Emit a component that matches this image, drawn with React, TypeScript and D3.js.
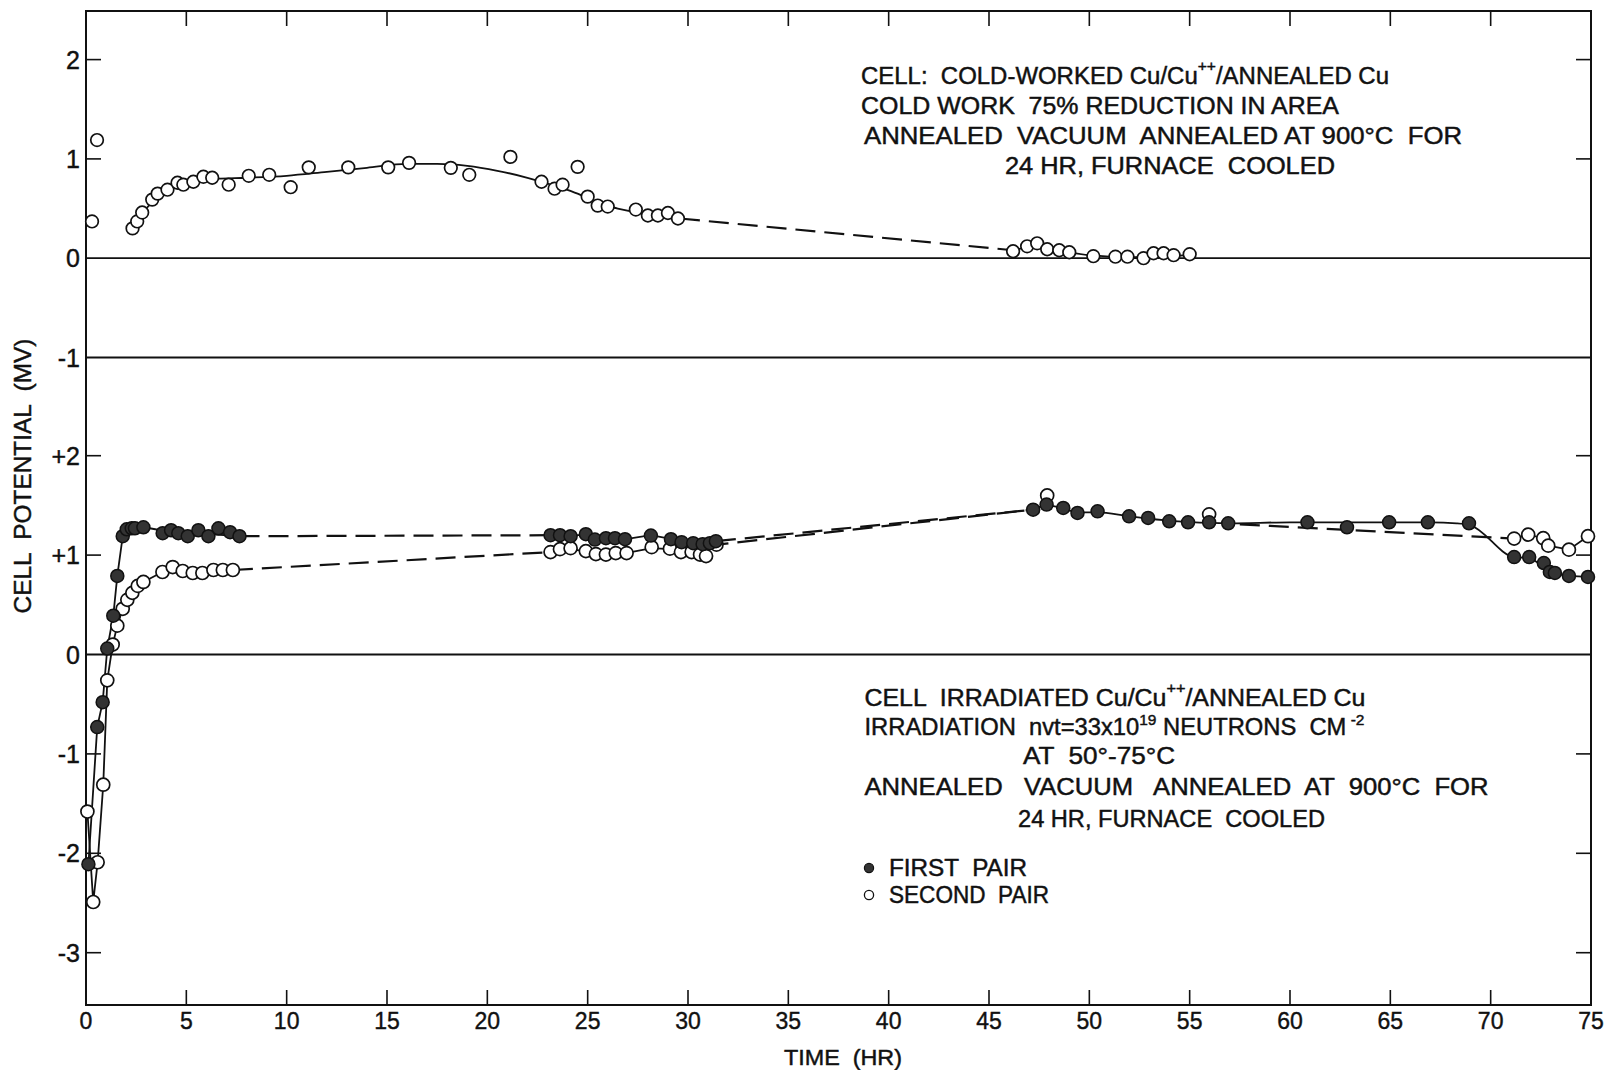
import React from 'react';
import * as d3 from 'd3';

type P = [number, number];

// ---------- axis tick labels ----------
const xTickValues = [0, 5, 10, 15, 20, 25, 30, 35, 40, 45, 50, 55, 60, 65, 70, 75];
const topTickValues = [2, 1, 0, -1];
const topTickLabels = ['2', '1', '0', '-1'];
const lowTickValues = [2, 1, 0, -1, -2, -3];
const lowTickLabels = ['+2', '+1', '0', '-1', '-2', '-3'];

// ---------- upper panel: cold-worked Cu (open circles) ----------
const topPoints: P[] = [
  [0.3, 0.37], [0.55, 1.19], [2.32, 0.3], [2.55, 0.37], [2.8, 0.46], [3.3, 0.59], [3.57, 0.65],
  [4.06, 0.69], [4.56, 0.76], [4.85, 0.74], [5.35, 0.77], [5.85, 0.82], [6.29, 0.81], [7.11, 0.74],
  [8.11, 0.83], [9.13, 0.84], [10.2, 0.715], [11.1, 0.915], [13.07, 0.915], [15.06, 0.915],
  [16.1, 0.96], [18.18, 0.91], [19.1, 0.84], [21.15, 1.02], [22.7, 0.77], [23.35, 0.7], [23.75, 0.74],
  [24.5, 0.92], [25.0, 0.62], [25.5, 0.53], [26.0, 0.52], [27.4, 0.49], [28.0, 0.43], [28.5, 0.43],
  [29.0, 0.455], [29.5, 0.4],
  [46.2, 0.07], [46.9, 0.12], [47.4, 0.15], [47.9, 0.09], [48.5, 0.08], [49.0, 0.06], [50.2, 0.02],
  [51.3, 0.015], [51.9, 0.015], [52.7, 0.0], [53.2, 0.05], [53.7, 0.05], [54.2, 0.03], [55.0, 0.04],
];
const topFitSolid1: P[] = [
  [2.3, 0.3], [3, 0.5], [3.6, 0.62], [4.5, 0.72], [5.5, 0.78], [6.5, 0.8], [8, 0.81], [10, 0.83],
  [12, 0.87], [14, 0.91], [16, 0.95], [17.5, 0.95], [19, 0.93], [20.5, 0.88], [22, 0.81],
  [23.5, 0.72], [24.5, 0.65], [25.5, 0.55], [26.5, 0.5], [27.5, 0.46], [28.5, 0.43], [29.6, 0.4],
];
const topFitDashed: P[] = [[29.6, 0.4], [46.2, 0.08]];
const topFitSolid2: P[] = [[46.2, 0.08], [47.4, 0.12], [48.5, 0.08], [50, 0.03], [52, 0.01], [55, 0.03]];

// ---------- lower panel: irradiated Cu, first pair (filled) ----------
const firstPairPoints: P[] = [
  [0.12, -2.11], [0.56, -0.73], [0.83, -0.48], [1.06, 0.06], [1.36, 0.39], [1.56, 0.79], [1.83, 1.19],
  [2.03, 1.26], [2.28, 1.27], [2.44, 1.27], [2.86, 1.28], [3.82, 1.22], [4.24, 1.25], [4.6, 1.22],
  [5.07, 1.19], [5.6, 1.25], [6.1, 1.19], [6.6, 1.27], [7.18, 1.23], [7.65, 1.19],
  [23.15, 1.2], [23.62, 1.2], [24.15, 1.19], [24.91, 1.21], [25.36, 1.156], [25.91, 1.17], [26.36, 1.17],
  [26.86, 1.16], [28.15, 1.196], [29.15, 1.16], [29.68, 1.13], [30.26, 1.12], [30.73, 1.11],
  [31.09, 1.12], [31.39, 1.14],
  [47.2, 1.457], [47.87, 1.508], [48.7, 1.474], [49.41, 1.424], [50.41, 1.44], [51.98, 1.39],
  [52.93, 1.374], [53.98, 1.34], [54.92, 1.33], [55.97, 1.33], [56.92, 1.32], [60.87, 1.33],
  [62.84, 1.28], [64.94, 1.33], [66.87, 1.33], [68.92, 1.32], [71.17, 0.98], [71.92, 0.98],
  [72.65, 0.92], [72.95, 0.83], [73.2, 0.82], [73.9, 0.79], [74.85, 0.78],
];
const firstSolid1: P[] = [
  [0.12, -2.11], [0.56, -0.73], [0.83, -0.48], [1.06, 0.06], [1.36, 0.39], [1.56, 0.79], [1.83, 1.19],
  [2.1, 1.27], [2.9, 1.28], [4, 1.24], [5.5, 1.22], [7.65, 1.19],
];
const firstDashed1: P[] = [[7.65, 1.19], [23.15, 1.2]];
const firstSolid2: P[] = [
  [23.15, 1.2], [24.9, 1.2], [26.9, 1.16], [28.15, 1.2], [29.2, 1.16], [31.39, 1.13],
];
const firstDashed2: P[] = [[31.39, 1.14], [47.2, 1.457]];
const firstSolid3: P[] = [
  [47.2, 1.457], [47.87, 1.5], [48.7, 1.47], [49.41, 1.43], [50.41, 1.43], [52, 1.39], [54, 1.345],
  [57, 1.32], [60, 1.33], [64, 1.33], [67, 1.33], [68.3, 1.32], [69, 1.3], [71.17, 0.98],
  [71.92, 0.97], [72.9, 0.84], [73.9, 0.79], [75, 0.78],
];

// ---------- lower panel: second pair (open) ----------
const secondPairPoints: P[] = [
  [0.07, -1.58], [0.36, -2.49], [0.58, -2.09], [0.86, -1.31], [1.06, -0.26], [1.33, 0.1], [1.56, 0.29],
  [1.83, 0.46], [2.06, 0.55], [2.31, 0.62], [2.58, 0.69], [2.86, 0.73], [3.81, 0.83], [4.32, 0.88],
  [4.82, 0.84], [5.32, 0.82], [5.8, 0.82], [6.35, 0.85], [6.82, 0.85], [7.32, 0.85],
  [23.15, 1.03], [23.62, 1.06], [24.15, 1.07], [24.91, 1.04], [25.41, 1.01], [25.91, 1.005],
  [26.4, 1.02], [26.94, 1.02], [28.19, 1.08], [29.1, 1.065], [29.65, 1.03], [30.18, 1.03],
  [30.6, 1.005], [30.9, 0.99], [31.42, 1.105],
  [47.9, 1.6], [55.97, 1.41],
  [71.17, 1.166], [71.87, 1.206], [72.62, 1.17], [72.87, 1.095], [73.9, 1.055], [74.85, 1.19],
];
const secondSolid1: P[] = [
  [0.07, -1.58], [0.36, -2.49], [0.58, -2.09], [0.86, -1.31], [1.06, -0.26], [1.33, 0.1], [1.56, 0.29],
  [1.83, 0.46], [2.3, 0.6], [2.86, 0.73], [3.81, 0.83], [4.32, 0.86], [5.3, 0.83], [7.32, 0.85],
];
const secondDashed1: P[] = [[7.32, 0.85], [23.15, 1.03]];
const secondSolid2: P[] = [
  [23.15, 1.03], [24.15, 1.06], [25.9, 1.01], [26.9, 1.02], [28.19, 1.07], [29.1, 1.06], [31.42, 1.1],
];
const secondDashed2: P[] = [[31.42, 1.105], [47.2, 1.457]];
const secondDashed3: P[] = [[57.5, 1.31], [71.17, 1.166]];
const secondSolid3: P[] = [
  [71.17, 1.166], [71.87, 1.206], [72.62, 1.17], [72.87, 1.095], [73.9, 1.055], [74.85, 1.19],
];

const FONT = "'Liberation Sans', Arial, sans-serif";
const INK = '#111';

export default function App() {
  const x = d3.scaleLinear().domain([0, 75]).range([86, 1591]);
  const yTop = d3.scaleLinear().domain([-1, 2]).range([357.5, 59.6]);
  const yLow = d3.scaleLinear().domain([-3, 2]).range([952.7, 455.7]);
  const frameTop = 11;
  const frameBottom = 1005;
  const left = x(0);
  const right = x(75);

  const topLine = d3.line<P>().x(d => x(d[0])).y(d => yTop(d[1])).curve(d3.curveMonotoneX);
  const lowLine = d3.line<P>().x(d => x(d[0])).y(d => yLow(d[1]));
  const lowSmooth = d3.line<P>().x(d => x(d[0])).y(d => yLow(d[1])).curve(d3.curveMonotoneX);

  const dash = '20,9';
  const lw = 1.8;

  const txt = (props: any, children: any) => (
    <text fontFamily={FONT} fill={INK} stroke={INK} strokeWidth={0.45} style={{ whiteSpace: 'pre' }} lengthAdjust="spacingAndGlyphs" {...props}>
      {children}
    </text>
  );

  return (
    <svg width={1608} height={1070} style={{ position: 'absolute', left: 0, top: 0, background: '#fff' }}>
      <rect x={0} y={0} width={1608} height={1070} fill="#fff" />
      {/* frame */}
      <rect x={left} y={frameTop} width={right - left} height={frameBottom - frameTop} fill="none" stroke={INK} strokeWidth={2} />
      {/* full-width reference lines */}
      <line x1={left} x2={right} y1={yTop(0)} y2={yTop(0)} stroke={INK} strokeWidth={1.8} />
      <line x1={left} x2={right} y1={yTop(-1)} y2={yTop(-1)} stroke={INK} strokeWidth={1.8} />
      <line x1={left} x2={right} y1={yLow(0)} y2={yLow(0)} stroke={INK} strokeWidth={1.8} />

      {/* x ticks, top and bottom */}
      {xTickValues.filter(v => v > 0 && v < 75).map(v => (
        <g key={'xt' + v}>
          <line x1={x(v)} x2={x(v)} y1={frameBottom} y2={frameBottom - 15} stroke={INK} strokeWidth={1.6} />
          <line x1={x(v)} x2={x(v)} y1={frameTop} y2={frameTop + 15} stroke={INK} strokeWidth={1.6} />
        </g>
      ))}
      {xTickValues.map(v => (
        <text key={'xl' + v} x={x(v)} y={1029} textAnchor="middle" fontFamily={FONT} fontSize={23} fill={INK} stroke={INK} strokeWidth={0.4}>
          {v}
        </text>
      ))}
      {txt({ x: 843, y: 1065, textAnchor: 'middle', fontSize: 22, textLength: 118 }, 'TIME  (HR)')}

      {/* y ticks and labels */}
      {topTickValues.map((v, i) => (
        <g key={'yt' + v}>
          {v === 2 || v === 1 ? (
            <>
              <line x1={left} x2={left + 15} y1={yTop(v)} y2={yTop(v)} stroke={INK} strokeWidth={1.6} />
              <line x1={right} x2={right - 15} y1={yTop(v)} y2={yTop(v)} stroke={INK} strokeWidth={1.6} />
            </>
          ) : null}
          <text x={80} y={yTop(v)} dy="0.36em" textAnchor="end" fontFamily={FONT} fontSize={25} fill={INK} stroke={INK} strokeWidth={0.4}>
            {topTickLabels[i]}
          </text>
        </g>
      ))}
      {lowTickValues.map((v, i) => (
        <g key={'yl' + v}>
          {v !== 0 ? (
            <>
              <line x1={left} x2={left + 15} y1={yLow(v)} y2={yLow(v)} stroke={INK} strokeWidth={1.6} />
              <line x1={right} x2={right - 15} y1={yLow(v)} y2={yLow(v)} stroke={INK} strokeWidth={1.6} />
            </>
          ) : null}
          <text x={80} y={yLow(v)} dy="0.36em" textAnchor="end" fontFamily={FONT} fontSize={25} fill={INK} stroke={INK} strokeWidth={0.4}>
            {lowTickLabels[i]}
          </text>
        </g>
      ))}
      {txt({ transform: 'translate(31,476) rotate(-90)', textAnchor: 'middle', fontSize: 24, textLength: 275 }, 'CELL  POTENTIAL  (MV)')}

      {/* upper panel lines */}
      <path d={topLine(topFitSolid1) || ''} fill="none" stroke={INK} strokeWidth={lw} />
      <path d={topLine(topFitDashed) || ''} fill="none" stroke={INK} strokeWidth={lw + 0.4} strokeDasharray={dash} />
      <path d={topLine(topFitSolid2) || ''} fill="none" stroke={INK} strokeWidth={lw} />
      {topPoints.map((d, i) => (
        <circle key={'tp' + i} cx={x(d[0])} cy={yTop(d[1])} r={6.3} fill="#fff" stroke={INK} strokeWidth={1.7} />
      ))}

      {/* lower panel lines */}
      <path d={lowLine(secondSolid1) || ''} fill="none" stroke={INK} strokeWidth={lw} />
      <path d={lowLine(secondDashed1) || ''} fill="none" stroke={INK} strokeWidth={lw + 0.4} strokeDasharray={dash} />
      <path d={lowLine(secondSolid2) || ''} fill="none" stroke={INK} strokeWidth={lw} />
      <path d={lowLine(secondDashed2) || ''} fill="none" stroke={INK} strokeWidth={lw + 0.4} strokeDasharray={dash} strokeDashoffset={8} />
      <path d={lowLine(secondDashed3) || ''} fill="none" stroke={INK} strokeWidth={lw + 0.4} strokeDasharray={dash} />
      <path d={lowLine(secondSolid3) || ''} fill="none" stroke={INK} strokeWidth={lw} />

      <path d={lowLine(firstSolid1) || ''} fill="none" stroke={INK} strokeWidth={lw} />
      <path d={lowLine(firstDashed1) || ''} fill="none" stroke={INK} strokeWidth={lw + 0.4} strokeDasharray={dash} />
      <path d={lowLine(firstSolid2) || ''} fill="none" stroke={INK} strokeWidth={lw} />
      <path d={lowLine(firstDashed2) || ''} fill="none" stroke={INK} strokeWidth={lw + 0.4} strokeDasharray={dash} />
      <path d={lowSmooth(firstSolid3) || ''} fill="none" stroke={INK} strokeWidth={lw} />

      {secondPairPoints.map((d, i) => (
        <circle key={'sp' + i} cx={x(d[0])} cy={yLow(d[1])} r={6.5} fill="#fff" stroke={INK} strokeWidth={1.7} />
      ))}
      {firstPairPoints.map((d, i) => (
        <circle key={'fp' + i} cx={x(d[0])} cy={yLow(d[1])} r={6.5} fill="#333" stroke={INK} strokeWidth={1.5} />
      ))}

      {/* upper annotation */}
      {txt({ x: 861, y: 83.5, fontSize: 23, textLength: 528 }, [
        <tspan key="a">{'CELL:  COLD-WORKED Cu/Cu'}</tspan>,
        <tspan key="b" dy={-13} fontSize={15}>++</tspan>,
        <tspan key="c" dy={13}>{'/ANNEALED Cu'}</tspan>,
      ])}
      {txt({ x: 861, y: 113.5, fontSize: 23, textLength: 478 }, 'COLD WORK  75% REDUCTION IN AREA')}
      {txt({ x: 864, y: 144, fontSize: 23, textLength: 598 }, 'ANNEALED  VACUUM  ANNEALED AT 900°C  FOR')}
      {txt({ x: 1005, y: 174, fontSize: 23, textLength: 330 }, '24 HR, FURNACE  COOLED')}

      {/* lower annotation */}
      {txt({ x: 864.5, y: 706, fontSize: 23, textLength: 501 }, [
        <tspan key="a">{'CELL  IRRADIATED Cu/Cu'}</tspan>,
        <tspan key="b" dy={-13} fontSize={15}>++</tspan>,
        <tspan key="c" dy={13}>{'/ANNEALED Cu'}</tspan>,
      ])}
      {txt({ x: 864.5, y: 735, fontSize: 23, textLength: 500 }, [
        <tspan key="a">{'IRRADIATION  nvt=33x10'}</tspan>,
        <tspan key="b" dy={-10} fontSize={15}>19</tspan>,
        <tspan key="c" dy={10}>{' NEUTRONS  CM'}</tspan>,
        <tspan key="d" dy={-10} fontSize={15}>{' -2'}</tspan>,
      ])}
      {txt({ x: 1023, y: 764, fontSize: 23, textLength: 152 }, 'AT  50°-75°C')}
      {txt({ x: 864.5, y: 795, fontSize: 23, textLength: 624 }, 'ANNEALED   VACUUM   ANNEALED  AT  900°C  FOR')}
      {txt({ x: 1018, y: 827, fontSize: 23, textLength: 307 }, '24 HR, FURNACE  COOLED')}

      {/* legend */}
      <circle cx={869} cy={868} r={4.6} fill="#333" stroke={INK} strokeWidth={1.2} />
      {txt({ x: 889, y: 876, fontSize: 23, textLength: 138 }, 'FIRST  PAIR')}
      <circle cx={869} cy={895} r={4.6} fill="#fff" stroke={INK} strokeWidth={1.3} />
      {txt({ x: 889, y: 903, fontSize: 23, textLength: 160 }, 'SECOND  PAIR')}
    </svg>
  );
}
